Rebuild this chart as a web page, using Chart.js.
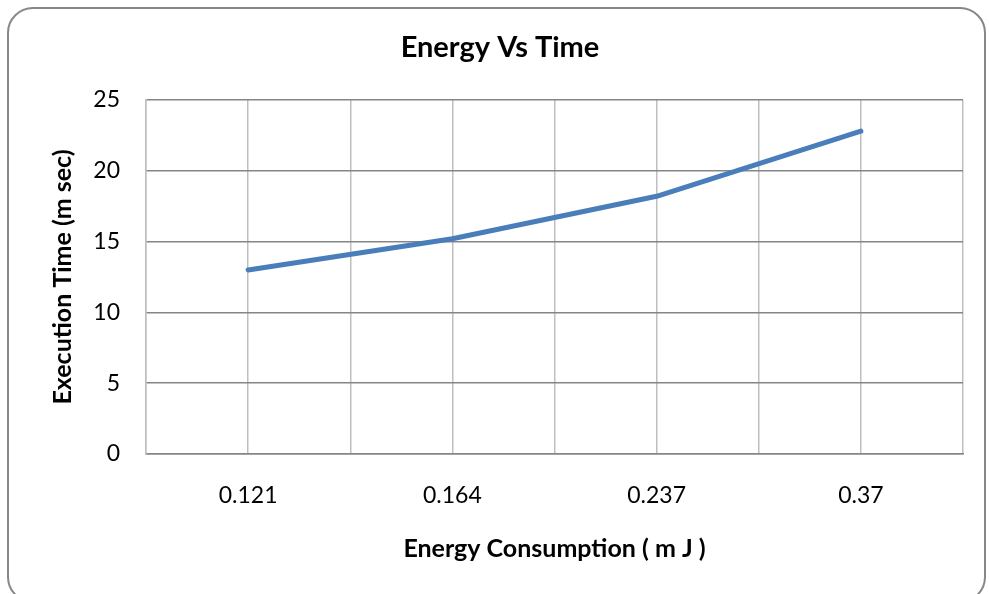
<!DOCTYPE html>
<html>
<head>
<meta charset="utf-8">
<script src="https://cdn.jsdelivr.net/npm/chart.js@4.4.1/dist/chart.umd.min.js"></script>
<style>
  html, body { margin: 0; padding: 0; background: #ffffff; }
  #wrap { position: relative; width: 989px; height: 594px; overflow: hidden; background: #ffffff; }
  #frame {
    position: absolute; left: 7px; top: 7px; width: 975px; height: 592px;
    border: 2px solid #878787; border-radius: 26px; box-sizing: content-box;
    pointer-events: none;
  }
  canvas { position: absolute; left: 0; top: 0; }
</style>
</head>
<body>
<div id="wrap">
  <canvas id="chart" width="989" height="594"></canvas>
  <div id="frame"></div>
</div>
<script>
// Energy consumption per run (mJ) and the matching execution time (ms)
const energyLabels = ['0.121', '0.164', '0.237', '0.37'];
const executionTime = [13.0, 15.2, 18.2, 22.8];
const yTicks = [0, 5, 10, 15, 20, 25];

const FONT = "Lato, 'Open Sans', sans-serif";

// Fixed geometry of the plot frame
const PLOT_LEFT = 146, PLOT_BOTTOM = 454;
const PAD = { left: 37, right: 26, top: 0, bottom: 30 };

new Chart(document.getElementById('chart'), {
  type: 'line',
  data: {
    labels: energyLabels,
    datasets: [{
      data: executionTime,
      borderColor: '#4A7EBB',
      backgroundColor: '#4A7EBB',
      borderWidth: 5,
      borderCapStyle: 'round',
      borderJoinStyle: 'round',
      pointRadius: 0,
      tension: 0,
      fill: false
    }]
  },
  options: {
    responsive: false,
    animation: false,
    devicePixelRatio: 1,
    layout: { padding: PAD },
    plugins: {
      legend: { display: false },
      tooltip: { enabled: false },
      title: {
        display: true,
        text: 'Energy Vs Time',
        color: '#000000',
        font: { family: FONT, size: 29, weight: 'bold' },
        padding: { top: 30, bottom: 35.2 }
      }
    },
    scales: {
      x: {
        type: 'category',
        offset: true,
        position: 'bottom',
        grid: { display: false, drawTicks: false },
        border: { display: true, color: '#868686', width: 1.5 },
        ticks: {
          color: '#000000',
          padding: 28,
          font: { family: FONT, size: 23 }
        },
        title: {
          display: true,
          text: 'Energy Consumption ( m J )',
          color: '#000000',
          font: { family: FONT, size: 25, weight: 'bold' },
          padding: 0
        },
        afterFit(scale) { scale.height = 594 - PAD.bottom - PLOT_BOTTOM; }
      },
      // Vertical gridlines at category centres and boundaries
      xGrid: {
        type: 'linear',
        position: 'bottom',
        min: 0,
        max: energyLabels.length * 2,
        grid: { color: '#BFBFBF', lineWidth: 1.5, drawTicks: false },
        border: { display: false },
        ticks: { display: false, stepSize: 1 },
        afterFit(scale) { scale.height = 0; }
      },
      y: {
        min: 0,
        max: 25,
        afterBuildTicks(scale) { scale.ticks = yTicks.map(v => ({ value: v })); },
        grid: { color: '#868686', lineWidth: 1.5, drawTicks: false },
        border: { display: true, color: '#BFBFBF', width: 1.5 },
        ticks: {
          color: '#000000',
          padding: 26,
          font: { family: FONT, size: 23 }
        },
        title: {
          display: true,
          text: 'Execution Time (m sec)',
          color: '#000000',
          font: { family: FONT, size: 25, weight: 'bold' },
          padding: { top: 11, bottom: 0 }
        },
        afterFit(scale) { scale.width = PLOT_LEFT - PAD.left; }
      }
    }
  }
});
</script>
</body>
</html>
